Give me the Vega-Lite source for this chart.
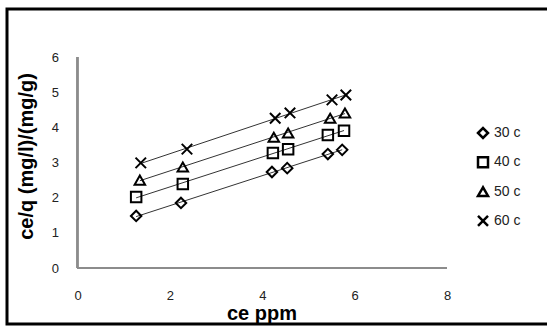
{
  "$schema": "https://vega.github.io/schema/vega-lite/v6.json",
  "autosize": {"type": "none"},
  "padding": {"left": 7, "top": 9, "right": -3, "bottom": 2},
  "width": 543,
  "height": 315,
  "background": "white",
  "config": {
    "view": {"stroke": "black", "strokeWidth": 3, "fill": "white"},
    "font": "Liberation Sans"
  },
  "data": {
    "values": [
      {"series": "30 c", "x": 1.27, "y": 1.48},
      {"series": "30 c", "x": 2.24, "y": 1.85},
      {"series": "30 c", "x": 4.21, "y": 2.73},
      {"series": "30 c", "x": 4.54, "y": 2.84},
      {"series": "30 c", "x": 5.42, "y": 3.24},
      {"series": "30 c", "x": 5.73, "y": 3.36},
      {"series": "40 c", "x": 1.27, "y": 2.02},
      {"series": "40 c", "x": 2.28, "y": 2.39},
      {"series": "40 c", "x": 4.23, "y": 3.27},
      {"series": "40 c", "x": 4.56, "y": 3.38},
      {"series": "40 c", "x": 5.42, "y": 3.78},
      {"series": "40 c", "x": 5.77, "y": 3.90},
      {"series": "50 c", "x": 1.35, "y": 2.50},
      {"series": "50 c", "x": 2.28, "y": 2.87},
      {"series": "50 c", "x": 4.25, "y": 3.72},
      {"series": "50 c", "x": 4.56, "y": 3.84},
      {"series": "50 c", "x": 5.47, "y": 4.26},
      {"series": "50 c", "x": 5.79, "y": 4.41},
      {"series": "60 c", "x": 1.37, "y": 2.99},
      {"series": "60 c", "x": 2.37, "y": 3.38},
      {"series": "60 c", "x": 4.28, "y": 4.26},
      {"series": "60 c", "x": 4.60, "y": 4.41},
      {"series": "60 c", "x": 5.51, "y": 4.78},
      {"series": "60 c", "x": 5.81, "y": 4.92}
    ]
  },
  "layer": [
    {
      "mark": {"type": "rule", "color": "#8c8c8c", "strokeWidth": 1.2},
      "encoding": {
        "x": {"datum": 0, "type": "quantitative"},
        "y": {"datum": 0, "type": "quantitative"},
        "y2": {"datum": 6}
      }
    },
    {
      "mark": {"type": "rule", "color": "#8c8c8c", "strokeWidth": 1.2},
      "encoding": {
        "y": {"datum": 0, "type": "quantitative"},
        "x": {"datum": 0, "type": "quantitative"},
        "x2": {"datum": 8}
      }
    },
    {
      "transform": [{"regression": "y", "on": "x", "groupby": ["series"]}],
      "mark": {"type": "line", "color": "#333333", "strokeWidth": 1},
      "encoding": {
        "x": {"field": "x", "type": "quantitative"},
        "y": {"field": "y", "type": "quantitative"},
        "detail": {"field": "series"}
      }
    },
    {
      "mark": {"type": "point", "filled": false, "color": "black", "strokeWidth": 2, "size": 110, "opacity": 1},
      "encoding": {
        "x": {
          "field": "x", "type": "quantitative",
          "scale": {"domain": [-1.526, 10.229], "nice": false, "zero": false},
          "axis": {
            "orient": "bottom", "offset": -56, "values": [0, 2, 4, 6, 8], "domain": false, "grid": false,
            "ticks": false, "tickSize": 0, "labelPadding": 21, "labelFontSize": 13, "labelColor": "#222222",
            "title": "ce ppm", "titleFontSize": 20, "titleFontWeight": "bold", "titleColor": "black",
            "titleX": 254.5, "titleY": 51, "titleAlign": "center", "titleBaseline": "alphabetic"
          }
        },
        "y": {
          "field": "y", "type": "quantitative",
          "scale": {"domain": [-1.592, 7.365], "nice": false, "zero": false},
          "axis": {
            "orient": "left", "offset": -70.5, "values": [0, 1, 2, 3, 4, 5, 6], "domain": false, "grid": false,
            "ticks": false, "tickSize": 0, "labelPadding": 19, "labelFontSize": 13, "labelColor": "#222222",
            "title": "ce/q (mg/l)/(mg/g)", "titleFontSize": 20, "titleFontWeight": "bold", "titleColor": "black",
            "titleX": -51.5, "titleY": 147, "titleAngle": -90, "titleAlign": "center", "titleBaseline": "middle"
          }
        },
        "shape": {
          "field": "series", "type": "nominal",
          "scale": {"domain": ["30 c", "40 c", "50 c", "60 c"], "range": ["diamond", "square", "triangle-up", "M-1,-1L1,1M-1,1L1,-1"]},
          "legend": {
            "title": null, "orient": "none", "legendX": 469, "legendY": 117, "padding": 0,
            "rowPadding": 9.3, "symbolSize": 100, "symbolStrokeWidth": 2.5, "symbolStrokeColor": "black",
            "symbolFillColor": "transparent", "labelFontSize": 14, "labelColor": "#222222", "labelOffset": 4
          }
        }
      }
    }
  ]
}
